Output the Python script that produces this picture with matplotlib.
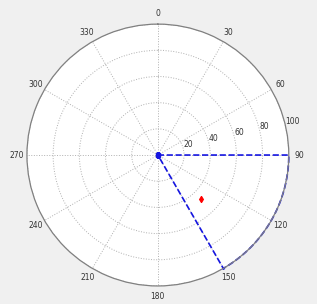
import numpy as np
import matplotlib
matplotlib.use("Agg")
import matplotlib.pyplot as plt

# data
sector_start = 90   # degrees
sector_end = 150
sector_r = 100
point_theta = 135
point_r = 47
ring_ticks = [20, 40, 60, 80, 100]
spoke_ticks = list(range(0, 360, 30))

fig = plt.figure(figsize=(3.17, 3.04), dpi=100, facecolor="#f0f0f0")
ax = fig.add_axes([0.085, 0.059, 0.826, 0.862], projection="polar")
ax.set_facecolor("white")
ax.set_theta_zero_location("N")
ax.set_theta_direction(-1)
ax.set_ylim(0, 100)

ax.set_thetagrids(spoke_ticks, [str(t) for t in spoke_ticks], fontsize=5.5, color="#333333")
ax.set_rgrids(ring_ticks, [str(r) for r in ring_ticks], angle=77, fontsize=5.5, color="#333333")
ax.tick_params(axis="x", pad=-3)
ax.grid(True, color="#b0b0b0", linestyle=":", linewidth=0.7)
ax.spines["polar"].set_color("#808080")
ax.spines["polar"].set_linewidth(0.9)

# sector outline: center -> start edge, arc, end edge -> center
arc = np.deg2rad(np.linspace(sector_start, sector_end, 60))
th = np.concatenate([[np.deg2rad(sector_start)], arc, [np.deg2rad(sector_end)]])
rr = np.concatenate([[0], np.full(arc.size, sector_r), [0]])
ax.plot(th, rr, color="#1515e0", linestyle="--", linewidth=1.2, clip_on=False)
ax.plot([0], [0], "s", color="#1515e0", markersize=3)
ax.plot([np.deg2rad(sector_end)], [sector_r], ".", color="#1515e0", markersize=2, clip_on=False)

ax.plot([np.deg2rad(point_theta)], [point_r], "d", color="red", markersize=3)

fig.savefig("out.png", dpi=100, facecolor=fig.get_facecolor())
